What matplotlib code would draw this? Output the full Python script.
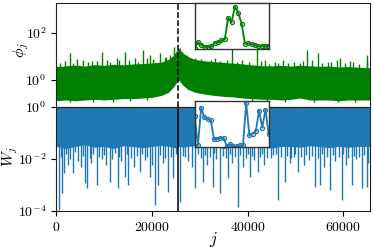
import matplotlib
matplotlib.use('Agg')
import matplotlib.pyplot as plt
import numpy as np

plt.rcParams['font.family'] = 'serif'
plt.rcParams['font.serif'] = ['cmr10', 'DejaVu Serif']
plt.rcParams['mathtext.fontset'] = 'cm'
plt.rcParams['axes.formatter.use_mathtext'] = True

N = 65536
J_MARK = 25500

# ── phi_j : envelope of the dense green trace ──────────────────────────────
phi_j = [0, 2000, 4000, 6000, 8000, 10000, 12000, 14000, 16000, 18000, 20000, 22000,
         23500, 24500, 25200, 25500, 25800, 26500, 27500,
         29000, 31000, 33000, 35000, 37000, 39000, 41000, 43000, 45000, 47000,
         49000, 51000, 53000, 55000, 57000, 59000, 61000, 63000, 65536]
phi_hi = [3.7, 4.0, 4.3, 3.9, 4.5, 4.2, 4.6, 4.4, 4.8, 5.0, 5.3, 5.8,
          7.5, 11, 18, 25, 20, 14, 10,
          7.5, 6.5, 6.0, 5.6, 5.2, 4.8, 4.4, 4.0, 4.0, 4.2, 3.9, 4.2, 4.0,
          3.8, 3.9, 3.6, 3.7, 3.5, 3.3]
phi_lo = [0.13, 0.14, 0.13, 0.14, 0.15, 0.14, 0.15, 0.16, 0.16, 0.17, 0.18, 0.22,
          0.3, 0.5, 0.8, 1.0, 0.9, 0.6, 0.4,
          0.3, 0.25, 0.22, 0.2, 0.19, 0.17, 0.16, 0.15, 0.15, 0.14, 0.15, 0.17, 0.14,
          0.14, 0.14, 0.13, 0.14, 0.14, 0.14]
# upward spikes of phi_j
phi_spk_j = [2920, 5700, 8490, 9530, 12660, 14400, 16490, 18220, 18920, 19620,
             21700, 22750, 23790, 24630, 25880, 27270, 29010, 31790, 33180, 36670,
             38750, 41890, 43620, 45700, 47440, 48480, 50920, 52320, 53360, 54750,
             56830, 58580, 59270, 62050, 64840,
             900, 1800, 3600, 4300, 6600, 7400, 10600, 11300, 13200, 15300, 17100,
             20300, 23000, 26200, 28000, 30200, 32400, 34300, 35600, 37800, 40200,
             42700, 44500, 46300, 49600, 51600, 55600, 57500, 60300, 61300, 63300, 65000]
phi_spk_v = [13.7, 7.1, 6.6, 16, 8.4, 16, 8.4, 18.9, 8.4, 11.6,
             13.7, 8.4, 11.6, 26, 22, 11.6, 8.4, 6.0, 8.4, 20,
             7.1, 24.6, 7.1, 6.0, 7.1, 5.1, 5.1, 18.9, 7.1, 13.7,
             6.0, 7.1, 8.4, 6.0, 11.6,
             5.5, 6.5, 5.2, 7.5, 5.8, 6.2, 7.0, 5.6, 6.8, 7.4, 6.0,
             8.0, 9.5, 16, 9.0, 8.0, 7.0, 6.5, 7.2, 6.0, 5.8,
             6.2, 5.0, 5.5, 5.8, 6.4, 5.2, 6.0, 5.5, 6.5, 5.0, 5.6]
# downward notches of the lower green edge
phi_dip_j = [3000, 7700, 11800, 15500, 19000, 41000, 44000, 47800, 53800, 58800, 62400]
phi_dip_v = [0.11, 0.12, 0.12, 0.13, 0.14, 0.13, 0.12, 0.12, 0.12, 0.11, 0.12]

# ── W_j : dense blue trace, lower edge and downward spikes ─────────────────
w_lo = [0.03, 0.025, 0.03, 0.035, 0.028, 0.03, 0.025, 0.032, 0.03, 0.027, 0.03, 0.033,
        0.03, 0.028, 0.025, 0.03, 0.03, 0.028, 0.03,
        0.032, 0.027, 0.03, 0.025, 0.03, 0.028, 0.033, 0.03, 0.026, 0.03,
        0.03, 0.028, 0.032, 0.03, 0.027, 0.03, 0.028, 0.03, 0.03]
w_spk_j = [630, 1190, 1670, 3490, 6050, 6410, 8490, 11270, 12940, 14400, 15030,
           17530, 19620, 20660, 21290, 23380, 24420, 25880, 29010, 30680, 32770,
           34230, 35900, 37980, 40490, 42160, 46330, 47790, 50500, 54050, 55100,
           57180, 59690, 61780, 63860, 64900,
           2500, 4500, 5200, 7300, 9600, 10400, 13600, 16200, 18500, 20000, 22300,
           24000, 27500, 28300, 31500, 33500, 36800, 39000, 41300, 43500, 44800,
           48800, 49600, 51800, 52800, 56000, 58300, 60500, 62700, 65200,
           1000, 2000, 3000, 4000, 5600, 7000, 7800, 8900, 10000, 11700, 12400,
           13200, 14800, 15600, 17000, 18000, 19000, 21700, 22800, 25000, 26500,
           27000, 29600, 30200, 31000, 32200, 33000, 34800, 35400, 36300, 37400,
           38500, 39600, 40000, 41000, 42600, 43100, 44000, 45300, 46000, 47000,
           48200, 49000, 50000, 51200, 52200, 53400, 54600, 55600, 56600, 57800,
           59000, 60000, 61000, 62200, 63200, 64300]
w_spk_v = [1.1e-4, 4.9e-4, 2.9e-3, 2.9e-3, 1.2e-3, 7.6e-4, 1e-3, 1.3e-3, 7.6e-4, 2e-3, 1e-3,
           3.2e-3, 2e-3, 1.7e-4, 1e-3, 5.4e-4, 1.9e-3, 2.2e-4, 7.6e-4, 1.3e-3, 8.4e-4,
           4.9e-4, 1.9e-3, 1.4e-4, 2e-3, 3.2e-3, 2.6e-4, 1.3e-3, 3.2e-3, 8.4e-4, 1e-3,
           6.4e-4, 2.6e-4, 1e-3, 7.6e-4, 8.4e-4,
           0.006, 0.008, 0.005, 0.007, 0.01, 0.006, 0.008, 0.005, 0.009, 0.006, 0.007,
           0.012, 0.008, 0.005, 0.006, 0.01, 0.007, 0.005, 0.009, 0.006, 0.011,
           0.007, 0.012, 0.006, 0.009, 0.005, 0.008, 0.006, 0.01, 0.007,
           0.012, 0.015, 0.01, 0.018, 0.013, 0.011, 0.016, 0.012, 0.014, 0.01, 0.017,
           0.012, 0.015, 0.011, 0.013, 0.016, 0.012, 0.014, 0.011, 0.015, 0.013,
           0.012, 0.016, 0.011, 0.014, 0.012, 0.017, 0.013, 0.011, 0.015, 0.012,
           0.014, 0.011, 0.016, 0.013, 0.012, 0.015, 0.011, 0.014, 0.016, 0.012,
           0.013, 0.011, 0.015, 0.012, 0.014, 0.013, 0.011, 0.016, 0.012, 0.014,
           0.012, 0.015, 0.011, 0.013, 0.012, 0.014]

# ── insets (normalised heights) ────────────────────────────────────────────
ins_phi = [0.02, 0.14, 0.08, 0.04, 0.04, 0.05, 0.13, 0.14, 0.18, 0.21, 0.67, 0.58,
           0.92, 0.79, 0.55, 0.11, 0.12, 0.10, 0.08, 0.05, 0.06, 0.05, 0.06]
ins_w = [0.67, 0.04, 0.86, 0.65, 0.62, 0.59, 0.17, 0.19, 0.20, 0.20, 0.02, 0.07,
         0.02, 0.02, 0.04, 0.04, 0.96, 0.26, 0.30, 0.35, 0.80, 0.43, 0.82, 0.28]

GREEN = '#008000'
BLUE = '#1f77b4'

fig = plt.figure(figsize=(3.74, 2.49), dpi=100)
ax1 = fig.add_axes([0.150, 0.570, 0.839, 0.418])
ax2 = fig.add_axes([0.150, 0.153, 0.839, 0.418])

# top panel
ax1.fill_between(phi_j, phi_lo, phi_hi, color=GREEN, lw=0)
ax1.vlines(phi_spk_j, 1.0, phi_spk_v, color=GREEN, lw=1.0)
ax1.vlines(phi_dip_j, phi_dip_v, 0.3, color=GREEN, lw=1.0)
ax1.axvline(J_MARK, color='k', ls='--', lw=1.1)
ax1.set_yscale('log')
ax1.set_ylim(0.07, 1900)
ax1.set_xlim(0, N)
ax1.set_yticks([1, 100])
ax1.minorticks_off()
ax1.tick_params(bottom=False, labelbottom=False, labelsize=10)
ax1.set_ylabel(r'$\phi_j$', fontsize=11.5)
ax1.yaxis.set_label_coords(-0.08, 0.55)

# bottom panel
ax2.fill_between(phi_j, w_lo, 1.0, color=BLUE, lw=0)
ax2.vlines(w_spk_j, 0.05, w_spk_v, color=BLUE, lw=1.0)
ax2.axvline(J_MARK, color='k', lw=1.1)
ax2.set_yscale('log')
ax2.set_ylim(1e-4, 1)
ax2.set_xlim(0, N)
ax2.set_yticks([1e-4, 1e-2, 1])
ax2.set_xticks([0, 20000, 40000, 60000])
ax2.minorticks_off()
ax2.tick_params(labelsize=10)
ax2.set_ylabel(r'$W_j$', fontsize=11)
ax2.yaxis.set_label_coords(-0.116, 0.52)
ax2.set_xlabel(r'$j$', fontsize=12)
ax2.xaxis.set_label_coords(0.5, -0.18)

for ax in (ax1, ax2):
    for s in ax.spines.values():
        s.set_color('#222222')

# insets
in1 = fig.add_axes([0.5206, 0.8044, 0.1987, 0.1835])
in1.plot(np.arange(len(ins_phi)), ins_phi, color=GREEN, lw=1.3, marker='o', ms=3,
         mfc=(0.0, 0.5, 0.0, 0.3), mec=GREEN, mew=0.8)
in1.set_xlim(0, len(ins_phi) - 0.8)
in1.set_ylim(0, 1)

in2 = fig.add_axes([0.5206, 0.4084, 0.1987, 0.1847])
in2.plot(np.arange(len(ins_w)), ins_w, color=BLUE, lw=1.3, marker='o', ms=3,
         mfc=(0.12, 0.47, 0.71, 0.3), mec=BLUE, mew=0.8)
in2.set_xlim(0, len(ins_w) - 0.9)
in2.set_ylim(0, 1)

for ax in (in1, in2):
    ax.set_xticks([])
    ax.set_yticks([])
    for s in ax.spines.values():
        s.set_color('#333333')
        s.set_linewidth(1.0)

fig.savefig('out.png', dpi=100)
